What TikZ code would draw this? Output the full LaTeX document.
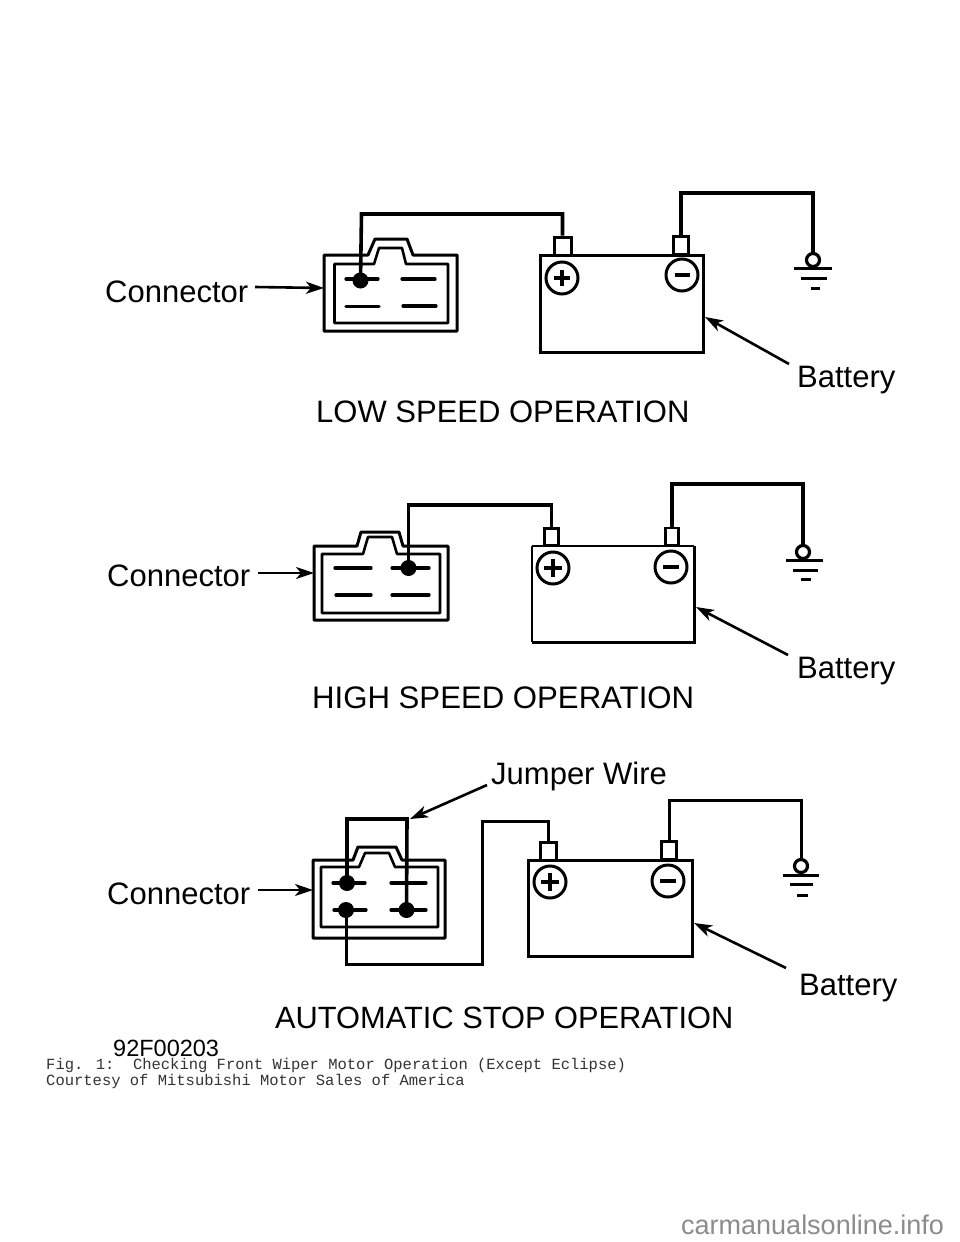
\documentclass[tikz,border=0pt]{standalone}
\usepackage{fontspec}
\setmainfont{Liberation Sans}
\newfontfamily\monof{Liberation Mono}
\usetikzlibrary{arrows.meta}
\tikzset{
  x=1pt,y=-1pt,
  wire/.style={line width=3.6pt,line join=miter},
  wirethin/.style={line width=3pt},
  boxline/.style={line width=3pt,line join=round},
  innerline/.style={line width=2.6pt,line join=round},
  batt/.style={line width=3pt},
  blade/.style={line width=3.2pt,line cap=round},
  gnd/.style={line width=3pt},
  sign/.style={line width=3.4pt},
  callout/.style={line width=2.6pt,-{Stealth[length=18pt,width=12pt,inset=5pt]}},
  lab/.style={inner sep=0pt,anchor=base west,font=\fontsize{31}{31}\selectfont,text=black},
  title/.style={inner sep=0pt,anchor=base west,font=\fontsize{31}{31}\selectfont,text=black},
  termbox/.style={draw,line width=3pt,rectangle,inner sep=0pt,fill=white},
  postc/.style={draw,line width=3pt,circle,inner sep=0pt,minimum size=32pt,fill=white},
  gcirc/.style={draw,line width=3.2pt,circle,inner sep=0pt,minimum size=13pt,fill=white},
  pin/.style={fill=black,circle,inner sep=0pt,minimum size=16pt},
}
\begin{document}
\begin{tikzpicture}
\useasboundingbox (0,0) rectangle (960,1242);
\fill[white] (0,0) rectangle (960,1242);

% ---------- PANEL 1 ----------
\draw[batt] (540,255) rectangle (703,352);
\node[termbox,minimum width=17pt,minimum height=18pt] (tp1) at (562.5,246) {};
\node[termbox,minimum width=15pt,minimum height=18pt] (tm1) at (681,245) {};
\node[postc] (pp1) at (562,278) {};
\node[postc] (pm1) at (682,275) {};
\draw[sign] (554,278)--(570,278) (562,270)--(562,286);
\draw[sign] (675,275)--(690,275);
\draw[boxline] (324,255) -- (368,255) -- (375,239) -- (407,239) -- (413,255) -- (457,255) -- (457,331) -- (324,331) -- cycle;
\draw[innerline] (334.5,264) -- (374,264) -- (379,248) -- (402,248) -- (406,264) -- (448,264) -- (448,323) -- (334.5,323) -- cycle;
\draw[blade] (346,279)--(378,279) (402,279)--(435,279) (346,306.5)--(379,306.5) (403,306)--(436,306);
\node[pin] (d1) at (360.5,280.5) {};
\coordinate (w1a) at (361.5,214);
\coordinate (w1b) at (813,193);
\node[gcirc] (g1) at (813,260) {};
\draw[wire] (tp1.north) |- (w1a) -- (d1.center);
\draw[wire] (tm1.north) |- (w1b) -- (g1.north);
\draw[gnd] (794,268)--(832,268) (801,278)--(827,278) (811,288)--(820,288);
\node[lab] (c1) at (105,302) {Connector};
\coordinate (ca1) at (324,288);
\draw[callout] (255,287) -- (ca1);
\node[lab] (b1) at (797,387) {Battery};
\coordinate (ba1) at (705,317);
\draw[callout] (789,364) -- (ba1);
\node[title] (t1) at (316,422) {LOW SPEED OPERATION};

% ---------- PANEL 2 ----------
\draw[line width=1.4pt] (532,546) -- (694,546);
\draw[batt] (694,546) -- (694,642) -- (532,642);
\draw[line width=2pt] (532,642) -- (532,546);
\node[termbox,line width=2.6pt,minimum width=14pt,minimum height=17pt] (tp2) at (551.5,537) {};
\node[termbox,line width=2.6pt,minimum width=13pt,minimum height=17pt] (tm2) at (672,536.5) {};
\node[postc] (pp2) at (553,568) {};
\node[postc] (pm2) at (671,567) {};
\draw[sign] (544,568)--(562,568) (553,559)--(553,577);
\draw[sign] (663,567)--(679,567);
\draw[boxline] (314,546) -- (357,546) -- (361,532) -- (399,532) -- (403,546) -- (448,546) -- (448,620) -- (314,620) -- cycle;
\draw[innerline] (322,554) -- (363,554) -- (368,537) -- (392,537) -- (397,554) -- (440,554) -- (440,613) -- (322,613) -- cycle;
\draw[blade] (335,568)--(371,568) (392,568)--(429,568) (336,595)--(371,595) (392,595)--(429,595);
\node[pin] (d2) at (408.5,568) {};
\coordinate (w2a) at (408.5,505);
\coordinate (w2b) at (803,484);
\node[gcirc] (g2) at (803,552) {};
\draw[wire] (tp2.north) |- (w2a) -- (d2.center);
\draw[wire] (tm2.north) |- (w2b) -- (g2.north);
\draw[gnd] (786,560)--(823,560) (793,570)--(818,570) (801,579)--(811,579);
\node[lab] (c2) at (107,586) {Connector};
\coordinate (ca2) at (314,573);
\draw[callout] (258,573) -- (ca2);
\node[lab] (b2) at (797,678) {Battery};
\coordinate (ba2) at (696,607);
\draw[callout] (788,655) -- (ba2);
\node[title,font=\fontsize{31.15}{31}\selectfont] (t2) at (312,708) {HIGH SPEED OPERATION};

% ---------- PANEL 3 ----------
\draw[batt] (528,860) rectangle (692,956);
\node[termbox,minimum width=16pt,minimum height=18pt] (tp3) at (548.5,851) {};
\node[termbox,minimum width=15pt,minimum height=18pt] (tm3) at (669,850.5) {};
\node[postc] (pp3) at (550,882) {};
\node[postc] (pm3) at (668,881) {};
\draw[sign] (541,882)--(559,882) (550,873)--(550,891);
\draw[sign] (660,881)--(676,881);
\draw[boxline] (313,860) -- (353,860) -- (358,847) -- (396,847) -- (402,860) -- (445,860) -- (445,938) -- (313,938) -- cycle;
\draw[innerline] (321,867) -- (359,867) -- (365,853) -- (389,853) -- (395,867) -- (438,867) -- (438,927) -- (321,927) -- cycle;
\draw[blade] (333,883)--(365,883) (391,883)--(426,883) (334,910)--(366,910) (391,910)--(426,910);
\node[pin] (d3a) at (347,883) {};
\node[pin] (d3b) at (406.5,910) {};
\node[pin] (d3c) at (346,910) {};
\coordinate (w3a) at (347,819);
\coordinate (w3b) at (407,819);
\coordinate (w3c) at (346,964);
\coordinate (w3d) at (482,964);
\coordinate (w3e) at (482,821);
\coordinate (w3f) at (801,800);
\node[gcirc] (g3) at (801,866) {};
\draw[wire] (d3a.center) -- (w3a) -- (w3b) -- (d3b.center);
\draw[wirethin] (d3c.center) -- (w3c) -- (w3d) -- (w3e) -| (tp3.north);
\draw[wirethin] (tm3.north) |- (w3f) -- (g3.north);
\draw[gnd] (783,875)--(819,875) (790,884)--(813,884) (797,895)--(808,895);
\node[lab] (c3) at (107,904) {Connector};
\coordinate (ca3) at (313,890);
\draw[callout] (258,890) -- (ca3);
\node[lab] (b3) at (799,995) {Battery};
\coordinate (ba3) at (694,923);
\draw[callout] (786,968) -- (ba3);
\node[lab] (j3) at (491,784) {Jumper Wire};
\coordinate (ja3) at (410,819);
\draw[callout] (487,785) -- (ja3);
\node[title,font=\fontsize{30.8}{31}\selectfont] (t3) at (275,1028) {AUTOMATIC STOP OPERATION};

% ---------- FOOTER ----------
\node[inner sep=0pt,anchor=base west,font=\fontsize{23.5}{23.5}\selectfont] (code) at (113,1056.5) {92F00203};
\node[inner sep=0pt,anchor=base west,font=\monof\fontsize{15.5}{15.5}\selectfont,text=black!80] (cap1) at (46,1069) {Fig. 1:\ \ Checking Front Wiper Motor Operation (Except Eclipse)};
\node[inner sep=0pt,anchor=base west,font=\monof\fontsize{15.5}{15.5}\selectfont,text=black!80] (cap2) at (46,1085) {Courtesy of Mitsubishi Motor Sales of America};
\node[inner sep=0pt,anchor=base west,font=\fontsize{27}{27}\selectfont,text=black!45] (wm) at (681,1234) {carmanualsonline.info};
\end{tikzpicture}
\end{document}
